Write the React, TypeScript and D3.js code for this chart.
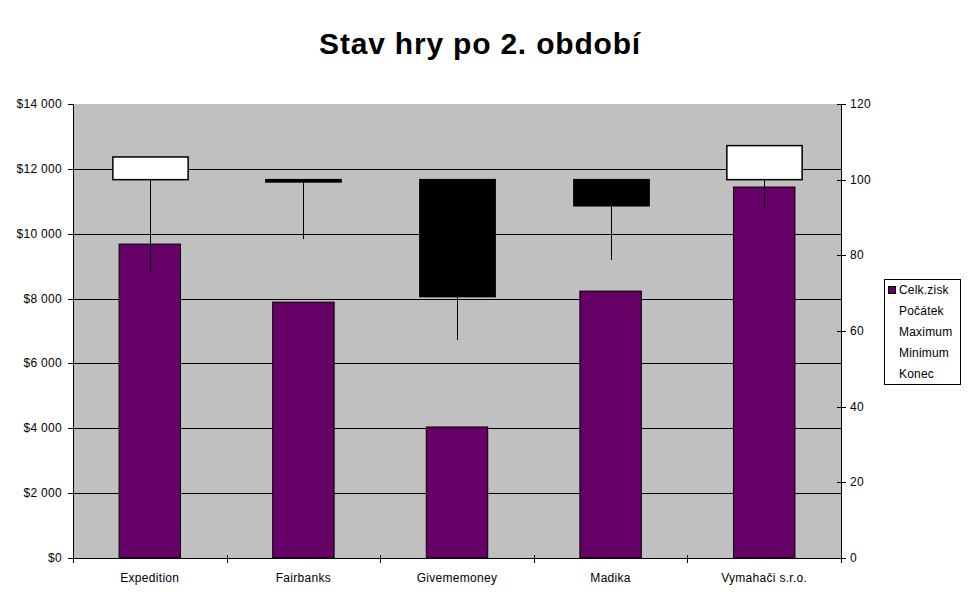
import React from "react";
import * as d3 from "d3";

const categories = ["Expedition", "Fairbanks", "Givememoney", "Madika", "Vymahači s.r.o."];
const profit = [9680, 7890, 4040, 8230, 11440];
const opens = [100, 100, 100, 100, 100];
const maxs = [106, 100, 100, 100, 109];
const mins = [75.6, 84.3, 57.6, 78.8, 92.5];
const closes = [106, 99.4, 69.1, 93.1, 109];
const leftTicks = [0, 2000, 4000, 6000, 8000, 10000, 12000, 14000];
const rightTicks = [0, 20, 40, 60, 80, 100, 120];
const legendLabels = ["Celk.zisk", "Počátek", "Maximum", "Minimum", "Konec"];

const W = 970, H = 604;
const plot = { l: 73, r: 841, t: 104, b: 558 };
const font = "Arial, 'Liberation Sans', sans-serif";

export default function App() {
  const x = d3.scaleBand<string>().domain(categories).range([plot.l, plot.r]);
  const yL = d3.scaleLinear().domain([0, 14000]).range([plot.b, plot.t]);
  const yR = d3.scaleLinear().domain([0, 120]).range([plot.b, plot.t]);
  const bw = x.bandwidth();
  const barW = bw * 0.4;
  const boxW = bw * 0.49;
  const fmt = (v: number) => "$" + d3.format(",")(v).replace(/,/g, " ");

  return (
    <svg width={W} height={H} style={{ position: "absolute", left: 0, top: 0, background: "#fff" }} fontFamily={font}>
      <text x={480} y={54} textAnchor="middle" fontSize={30} fontWeight="bold" letterSpacing={0.8}>Stav hry po 2. období</text>
      <rect x={plot.l} y={plot.t} width={plot.r - plot.l} height={plot.b - plot.t} fill="#c0c0c0" />
      {leftTicks.filter(t => t > 0 && t < 14000).map(t => (
        <line key={t} x1={plot.l} x2={plot.r} y1={Math.round(yL(t)) + 0.5} y2={Math.round(yL(t)) + 0.5} stroke="#000" />
      ))}
      {categories.map((c, i) => {
        const cx = x(c)! + bw / 2;
        return (
          <rect key={c} x={cx - barW / 2} y={yL(profit[i])} width={barW} height={plot.b - yL(profit[i])} fill="#660066" stroke="#000" strokeWidth={1} />
        );
      })}
      {categories.map((c, i) => {
        const cx = Math.round(x(c)! + bw / 2) + 0.5;
        const up = closes[i] >= opens[i];
        const top = yR(Math.max(opens[i], closes[i]));
        const bot = yR(Math.min(opens[i], closes[i]));
        return (
          <g key={c}>
            <line x1={cx} x2={cx} y1={yR(maxs[i])} y2={yR(mins[i])} stroke="#000" />
            <rect x={cx - boxW / 2} y={top} width={boxW} height={Math.max(bot - top, 1.5)} fill={up ? "#fff" : "#000"} stroke="#000" strokeWidth={1.5} />
          </g>
        );
      })}
      {/* axes */}
      <line x1={plot.l + 0.5} x2={plot.l + 0.5} y1={plot.t} y2={plot.b} stroke="#000" />
      <line x1={plot.r + 0.5} x2={plot.r + 0.5} y1={plot.t} y2={plot.b} stroke="#000" />
      <line x1={plot.l} x2={plot.r + 1} y1={plot.b + 0.5} y2={plot.b + 0.5} stroke="#000" />
      {leftTicks.map(t => (
        <g key={t}>
          <line x1={plot.l - 5} x2={plot.l} y1={Math.round(yL(t)) + 0.5} y2={Math.round(yL(t)) + 0.5} stroke="#000" />
          <text x={62} y={yL(t) + 4} textAnchor="end" fontSize={12} letterSpacing={0.3}>{fmt(t)}</text>
        </g>
      ))}
      {rightTicks.map(t => (
        <g key={t}>
          <line x1={plot.r - 4} x2={plot.r + 5} y1={Math.round(yR(t)) + 0.5} y2={Math.round(yR(t)) + 0.5} stroke="#000" />
          <text x={850} y={yR(t) + 4} textAnchor="start" fontSize={12} letterSpacing={0.3}>{t}</text>
        </g>
      ))}
      {d3.range(categories.length + 1).map(i => {
        const xx = Math.round(plot.l + i * bw) + 0.5;
        return <line key={i} x1={xx} x2={xx} y1={plot.b - 3} y2={plot.b + 5} stroke="#000" />;
      })}
      {categories.map(c => (
        <text key={c} x={x(c)! + bw / 2} y={582} textAnchor="middle" fontSize={12} letterSpacing={0.3}>{c}</text>
      ))}
      {/* legend */}
      <rect x={884.5} y={279.5} width={76} height={105} fill="#fff" stroke="#000" />
      {legendLabels.map((l, i) => (
        <g key={l}>
          {i === 0 && <rect x={888.5} y={286.5} width={7} height={7} fill="#660066" stroke="#000" />}
          <text x={899} y={294 + i * 21} fontSize={12} letterSpacing={0.2}>{l}</text>
        </g>
      ))}
    </svg>
  );
}
